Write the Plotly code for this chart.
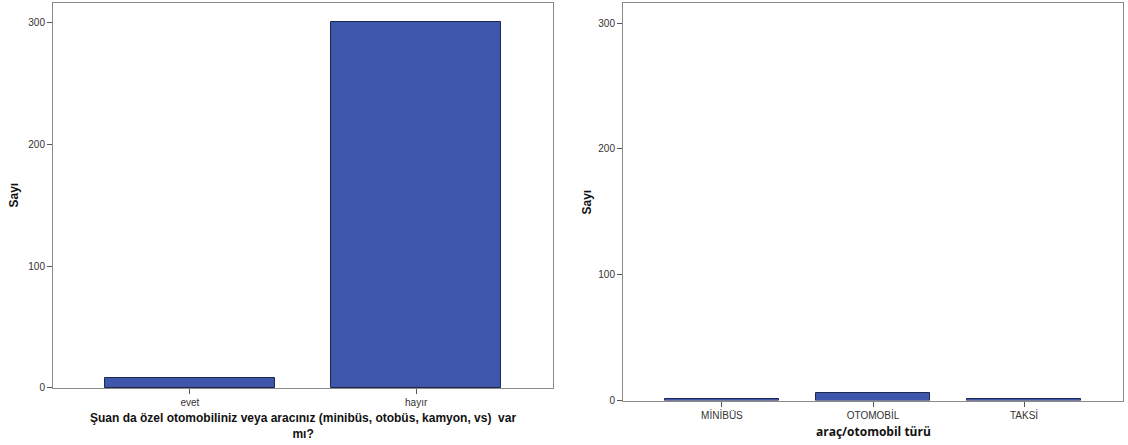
import plotly.graph_objects as go

# Left chart data
q1_categories = ["evet", "hayır"]
q1_counts = [8, 300]

# Right chart data
vehicle_categories = ["MİNİBÜS", "OTOMOBİL", "TAKSİ"]
vehicle_counts = [1, 6, 1]

y_ticks = [0, 100, 200, 300]

W, H = 1128, 445
K = 0.984  # observed vertical compression of the captured picture
BAR = "#3F57AB"
EDGE = "#1E2750"
FRAME = "#8A8A8A"
FONT = "Liberation Sans, Arial, sans-serif"

fig = go.Figure()
fig.add_trace(go.Bar(x=q1_categories, y=q1_counts, xaxis="x", yaxis="y",
                     marker=dict(color=BAR, line=dict(color=EDGE, width=1)),
                     width=0.75, showlegend=False))
fig.add_trace(go.Bar(x=vehicle_categories, y=vehicle_counts, xaxis="x2", yaxis="y2",
                     marker=dict(color=BAR, line=dict(color=EDGE, width=1)),
                     width=0.755, showlegend=False))

def px_x(v):
    return v / W

def px_y(v):
    return (H - v / K) / H

axis_common = dict(showgrid=False, zeroline=False, showline=True, linecolor=FRAME,
                   linewidth=1, mirror=True, ticks="outside", ticklen=5,
                   tickcolor="#555555", tickfont=dict(family=FONT, size=10, color="#333333"))

fig.update_layout(
    autosize=True,
    margin=dict(l=0, r=0, t=0, b=0),
    paper_bgcolor="white", plot_bgcolor="white",
    bargap=0,
    xaxis=dict(domain=[px_x(53), px_x(553)], anchor="y", range=[-0.605, 1.605],
               **axis_common),
    yaxis=dict(domain=[px_y(387), px_y(3)], anchor="x", range=[0, 316],
               tickvals=y_ticks, **axis_common),
    xaxis2=dict(domain=[px_x(623), px_x(1123)], anchor="y2", range=[-0.655, 2.655],
                **axis_common),
    yaxis2=dict(domain=[px_y(399.5), px_y(3)], anchor="x2", range=[0, 316],
                tickvals=y_ticks, **axis_common),
)

title_font = dict(family=FONT, size=12, color="#111111")
fig.add_annotation(text="<b>Sayı</b>", x=px_x(14), y=px_y(195), xref="paper", yref="paper",
                   textangle=-90, showarrow=False, font=title_font,
                   xanchor="center", yanchor="middle")
fig.add_annotation(text="<b>Sayı</b>", x=px_x(587), y=px_y(202), xref="paper", yref="paper",
                   textangle=-90, showarrow=False, font=title_font,
                   xanchor="center", yanchor="middle")
fig.add_annotation(text="<b>Şuan da özel otomobiliniz veya aracınız (minibüs, otobüs, kamyon, vs)  var<br>mı?</b>",
                   x=px_x(303), y=px_y(425), xref="paper", yref="paper", showarrow=False,
                   font=title_font, align="center", xanchor="center", yanchor="middle")
fig.add_annotation(text="<b>araç/otomobil türü</b>", x=px_x(873), y=px_y(430),
                   xref="paper", yref="paper", showarrow=False,
                   xanchor="center", yanchor="middle",
                   font=dict(family="Open Sans, sans-serif", size=12, color="#111111"))

post = ("document.documentElement.style.overflow='hidden';"
        "document.body.style.margin='0';document.body.style.overflow='hidden';"
        "var g=document.getElementById('{plot_id}');"
        "g.style.position='fixed';g.style.top='0';g.style.left='0';"
        "Plotly.Plots.resize(g);")
fig.write_html("out.html", config={"displayModeBar": False, "responsive": True},
               default_width="100vw", default_height="100vh", post_script=post)
